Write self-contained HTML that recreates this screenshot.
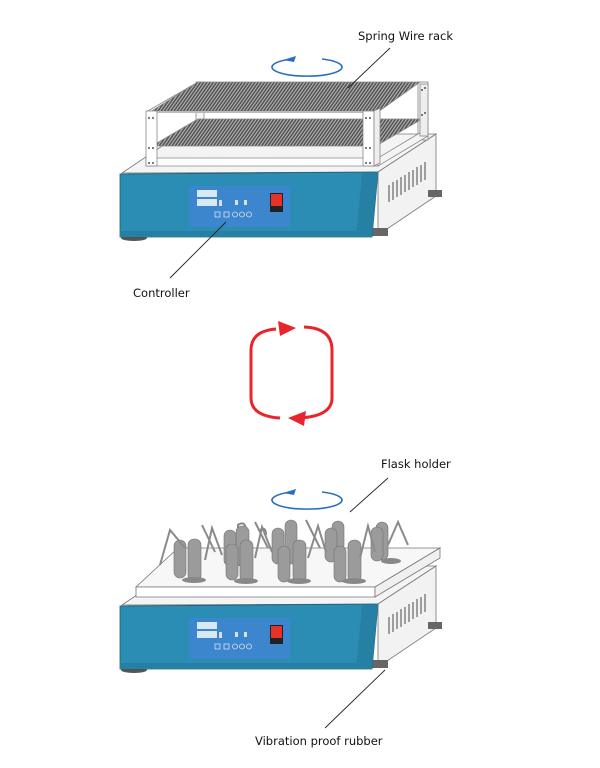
<!DOCTYPE html>
<html><head><meta charset="utf-8"><style>
html,body{margin:0;padding:0;background:#fff;}
svg{display:block;}
text{font-family:"DejaVu Sans","Liberation Sans",sans-serif;font-size:11.5px;fill:#111;}
</style></head><body>
<svg width="600" height="768" viewBox="0 0 600 768" xmlns="http://www.w3.org/2000/svg">
<defs>
<pattern id="grid" width="3.2" height="6" patternUnits="userSpaceOnUse" patternTransform="skewX(-35)">
<rect width="3.2" height="6" fill="#555"/><rect width="1.2" height="6" fill="#bbb"/>
</pattern>
<g id="base">
  <!-- top surface -->
  <polygon points="122,173 378,172 436,134 180,134" fill="#f4f4f4" stroke="#777" stroke-width="0.8"/>
  <!-- side -->
  <polygon points="378,172 436,134 436,196 378,235" fill="#f2f2f2" stroke="#777" stroke-width="0.8"/>
  <g stroke="#666" stroke-width="1.2">
    <line x1="389" y1="185" x2="389" y2="202"/><line x1="393" y1="182" x2="393" y2="200"/>
    <line x1="397" y1="180" x2="397" y2="197"/><line x1="401" y1="177" x2="401" y2="195"/>
    <line x1="405" y1="175" x2="405" y2="192"/><line x1="409" y1="172" x2="409" y2="190"/>
    <line x1="413" y1="170" x2="413" y2="187"/><line x1="417" y1="167" x2="417" y2="185"/>
    <line x1="421" y1="165" x2="421" y2="182"/><line x1="425" y1="162" x2="425" y2="180"/>
  </g>
  <!-- feet -->
  <ellipse cx="134" cy="238" rx="13" ry="3" fill="#555"/>
  <rect x="372" y="228" width="16" height="8" fill="#666"/>
  <rect x="428" y="190" width="14" height="7" fill="#666"/>
  <!-- front -->
  <polygon points="120,174 378,172 372,237 120,237" fill="#2b8db3" stroke="#1d5f7a" stroke-width="0.8"/>
  <polygon points="362,173 378,172 372,237 356,237" fill="#2680a3"/>
  <rect x="120" y="231" width="252" height="6" fill="#2680a3"/>
  <!-- panel -->
  <rect x="189" y="186" width="101" height="41" fill="#3b86cc"/>
  <rect x="197" y="190" width="20" height="7" fill="#d8e8f4"/>
  <rect x="197" y="199" width="20" height="7" fill="#d8e8f4"/>
  <g fill="#dde" font-size="3"><rect x="219" y="200" width="3" height="6"/><rect x="235" y="200" width="3" height="5"/><rect x="244" y="200" width="3" height="5"/></g>
  <g fill="none" stroke="#dde" stroke-width="0.8">
    <rect x="215" y="212" width="5" height="5"/><rect x="224" y="212" width="5" height="5"/>
    <circle cx="235" cy="214.5" r="2.5"/><circle cx="242" cy="214.5" r="2.5"/><circle cx="249" cy="214.5" r="2.5"/>
  </g>
  <rect x="270" y="193" width="13" height="19" fill="#222"/>
  <rect x="271" y="194" width="11" height="12" fill="#e5332a"/>
</g>
</defs>

<!-- TOP DEVICE -->
<use href="#base"/>
<!-- rack -->
<g stroke="#888" stroke-width="0.8" fill="#fff">
  <!-- back posts -->
  <rect x="196" y="82" width="8" height="52" fill="#f6f6f6"/>
  <rect x="418" y="82" width="10" height="58" fill="#f6f6f6"/>
  <!-- lower shelf -->
  <polygon points="152,146 376,146 422,119 198,119" fill="url(#grid)"/>
  <!-- top shelf -->
  <polygon points="150,112 378,112 420,82 198,82" fill="url(#grid)"/>
  <line x1="150" y1="112" x2="378" y2="112" stroke="#bbb" stroke-width="2"/>
  <!-- bottom frame rails -->
  <polygon points="146,158 378,158 378,166 146,166" fill="#fff"/>
  <polygon points="378,158 428,128 428,136 378,166" fill="#f4f4f4"/>
  <line x1="146" y1="112" x2="198" y2="82"/>
  <line x1="152" y1="146" x2="198" y2="119"/>
  <!-- front posts -->
  <rect x="146" y="111" width="11" height="55"/>
  <rect x="363" y="111" width="11" height="55"/>
  <polygon points="374,111 380,108 380,163 374,166" fill="#eee"/>
  <rect x="420" y="84" width="8" height="52" fill="#eee"/>
</g>
<g fill="#222">
  <circle cx="149" cy="118" r="0.9"/><circle cx="153" cy="118" r="0.9"/>
  <circle cx="149" cy="148" r="0.9"/><circle cx="153" cy="148" r="0.9"/>
  <circle cx="149" cy="163" r="0.9"/><circle cx="153" cy="163" r="0.9"/>
  <circle cx="366" cy="118" r="0.9"/><circle cx="370" cy="118" r="0.9"/>
  <circle cx="366" cy="148" r="0.9"/><circle cx="370" cy="148" r="0.9"/>
  <circle cx="366" cy="163" r="0.9"/><circle cx="370" cy="163" r="0.9"/>
  <circle cx="422" cy="90" r="0.9"/><circle cx="425" cy="88" r="0.9"/>
  <circle cx="422" cy="115" r="0.9"/><circle cx="425" cy="113" r="0.9"/>
</g>
<!-- rotation top -->
<path d="M292,59 A35,9 0 1,0 322,59" fill="none" stroke="#2a6ec0" stroke-width="1.6"/>
<polygon points="283,60 296,56 294,62" fill="#2a6ec0"/>
<line x1="390" y1="48" x2="348" y2="88" stroke="#222" stroke-width="0.9"/>
<text x="358" y="40">Spring Wire rack</text>
<line x1="170" y1="278" x2="226" y2="222" stroke="#222" stroke-width="0.9"/>
<text x="133" y="297">Controller</text>

<!-- red loop -->
<g fill="none" stroke="#e8252a" stroke-width="3">
  <path d="M276,329 Q251,331 251,350 L251,398 Q251,416 280,418"/>
  <path d="M304,327 Q332,328 332,350 L332,398 Q332,416 300,418"/>
</g>
<polygon points="296,328 278,321 280,336" fill="#e8252a"/>
<polygon points="288,418 306,411 304,426" fill="#e8252a"/>

<!-- BOTTOM DEVICE -->
<g transform="translate(0,432)"><use href="#base"/></g>
<!-- plate -->
<polygon points="136,587 375,587 440,548 178,548" fill="#f7f7f7" stroke="#777" stroke-width="0.8"/>
<polygon points="136,587 375,587 375,597 136,597" fill="#fff" stroke="#777" stroke-width="0.8"/>
<polygon points="375,587 440,548 440,558 375,597" fill="#f0f0f0" stroke="#777" stroke-width="0.8"/>
<!-- flasks -->
<g id="fl" fill="#9a9a9a" stroke="#6a6a6a" stroke-width="0.6">
  <g transform="translate(0,0)">
    <path d="M238,525 q7,-5 8,5 l0,35 l-8,0 z M260,530 q6,-4 6,5" fill="none" stroke="#888" stroke-width="2"/>
  </g>
</g>
<g fill="#9b9b9b" stroke="#727272" stroke-width="0.6">
  <!-- back row -->
  <rect x="236" y="526" width="13" height="40" rx="6"/>
  <rect x="285" y="520" width="12" height="44" rx="6"/>
  <rect x="332" y="521" width="12" height="42" rx="6"/>
  <rect x="376" y="522" width="12" height="38" rx="6"/>
  <rect x="224" y="530" width="12" height="36" rx="6"/>
  <rect x="272" y="528" width="12" height="36" rx="6"/>
  <rect x="325" y="528" width="12" height="34" rx="6"/>
  <rect x="371" y="527" width="12" height="34" rx="6"/>
  <!-- front row -->
  <rect x="174" y="540" width="12" height="38" rx="6"/>
  <rect x="188" y="539" width="13" height="42" rx="6"/>
  <rect x="226" y="544" width="12" height="36" rx="6"/>
  <rect x="240" y="540" width="13" height="42" rx="6"/>
  <rect x="278" y="546" width="12" height="36" rx="6"/>
  <rect x="293" y="540" width="13" height="42" rx="6"/>
  <rect x="334" y="546" width="12" height="36" rx="6"/>
  <rect x="348" y="540" width="13" height="42" rx="6"/>
</g>
<g fill="#888">
  <ellipse cx="194" cy="580" rx="12" ry="3"/><ellipse cx="246" cy="581" rx="12" ry="3"/>
  <ellipse cx="299" cy="581" rx="12" ry="3"/><ellipse cx="354" cy="581" rx="12" ry="3"/>
  <ellipse cx="391" cy="561" rx="10" ry="3"/>
</g>
<g fill="none" stroke="#8a8a8a" stroke-width="2">
  <path d="M160,565 L170,530 L185,548"/><path d="M205,560 L212,528 L222,555"/>
  <path d="M255,558 L262,527 L272,552"/><path d="M308,558 L318,526 L326,552"/>
  <path d="M360,558 L368,526 L375,552"/><path d="M388,545 L398,522 L408,545"/>
  <path d="M215,552 L202,525"/><path d="M268,548 L255,522"/><path d="M320,548 L306,520"/>
</g>
<path d="M292,492 A35,9 0 1,0 322,492" fill="none" stroke="#2a6ec0" stroke-width="1.6"/>
<polygon points="283,493 296,489 294,495" fill="#2a6ec0"/>
<line x1="388" y1="478" x2="350" y2="512" stroke="#222" stroke-width="0.9"/>
<text x="381" y="468">Flask holder</text>
<line x1="325" y1="728" x2="385" y2="670" stroke="#222" stroke-width="0.9"/>
<text x="255" y="745">Vibration proof rubber</text>
</svg>
</body></html>
